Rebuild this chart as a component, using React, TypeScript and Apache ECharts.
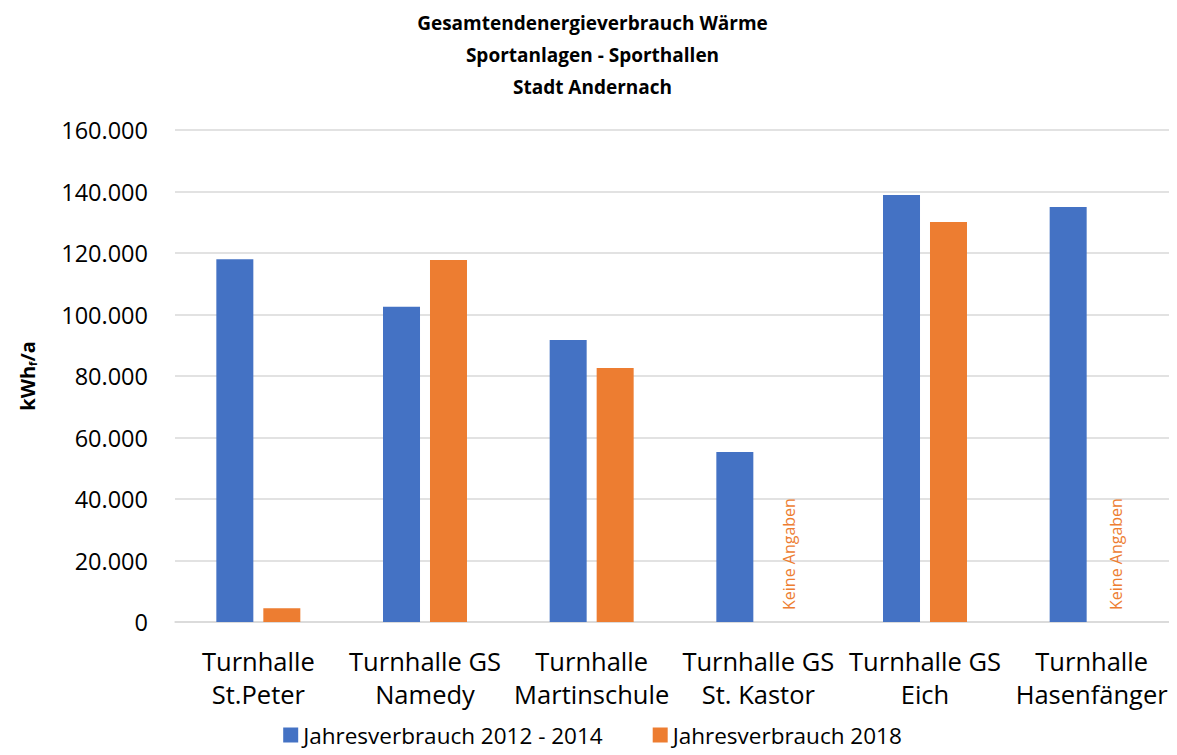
import React, { useEffect, useRef } from "react";
import * as echarts from "echarts";

const categories = [
  "Turnhalle\nSt.Peter",
  "Turnhalle GS\nNamedy",
  "Turnhalle\nMartinschule",
  "Turnhalle GS\nSt. Kastor",
  "Turnhalle GS\nEich",
  "Turnhalle\nHasenfänger",
];
const series1Name = "Jahresverbrauch 2012 - 2014";
const series2Name = "Jahresverbrauch 2018";
const values2012 = [118000, 102500, 91700, 55300, 138900, 135000];
const values2018: (number | null)[] = [4500, 117700, 82600, null, 130100, null];
const noDataText = "Keine Angaben";
const titleLines = ["Gesamtendenergieverbrauch Wärme", "Sportanlagen - Sporthallen", "Stadt Andernach"];

const FONT = "'Open Sans', 'Noto Sans', sans-serif";

export default function App() {
  const ref = useRef<HTMLDivElement>(null);
  useEffect(() => {
    if (!ref.current) return;
    const chart = echarts.init(ref.current, undefined, { renderer: "svg" });
    const fmt = (v: number) => (v === 0 ? "0" : v.toLocaleString("de-DE"));
    chart.setOption({
      animation: false,
      textStyle: { fontFamily: FONT },
      title: {
        text: titleLines.join("\n"),
        left: "center",
        top: -6,
        textStyle: { fontSize: 19, fontWeight: "bold", color: "#000", lineHeight: 32, fontFamily: FONT },
      },
      legend: {
        top: 709,
        left: "center",
        itemWidth: 15,
        itemHeight: 15,
        itemGap: 50,
        icon: "rect",
        textStyle: { fontSize: 22.5, lineHeight: 26, color: "#000", fontFamily: FONT },
        data: [series1Name, series2Name],
      },
      grid: { left: 167, right: 2, top: 122, bottom: 133, containLabel: false },
      xAxis: {
        type: "category",
        data: categories,
        axisTick: { show: false },
        axisLine: { lineStyle: { color: "#d9d9d9", width: 1.5 } },
        axisLabel: { fontSize: 25.5, color: "#000", lineHeight: 33, margin: 22, interval: 0, fontFamily: FONT },
      },
      yAxis: {
        type: "value",
        min: 0,
        max: 160000,
        interval: 20000,
        name: "kWh{sub|f}/a",
        nameLocation: "middle",
        nameGap: 137,
        nameRotate: 90,
        nameTextStyle: {
          fontSize: 20,
          fontWeight: "bold",
          color: "#000",
          fontFamily: FONT,
          rich: {
            sub: { fontSize: 11, fontWeight: "bold", verticalAlign: "bottom", padding: [10, 0, 0, 0], fontFamily: FONT },
          },
        },
        axisLabel: { fontSize: 23.5, color: "#000", margin: 27, formatter: fmt, fontFamily: FONT },
        splitLine: { lineStyle: { color: "#d9d9d9", width: 1.5 } },
      },
      series: [
        {
          name: series1Name,
          type: "bar",
          data: values2012,
          barWidth: 37,
          barGap: "27%",
          itemStyle: { color: "#4472C4" },
        },
        {
          name: series2Name,
          type: "bar",
          data: values2018.map((v, i) =>
            v === null
              ? {
                  value: 0,
                  label: {
                    show: true,
                    formatter: noDataText,
                    position: "top",
                    rotate: 90,
                    align: "left",
                    verticalAlign: "middle",
                    distance: 12,
                    offset: i === 3 ? [0, 7] : [0, 1],
                    fontSize: 16,
                    color: "#ED7D31",
                    fontFamily: FONT,
                  },
                }
              : v
          ),
          barWidth: 37,
          itemStyle: { color: "#ED7D31" },
        },
      ],
    });
    return () => chart.dispose();
  }, []);
  return <div ref={ref} style={{ width: 1169, height: 747 }} />;
}
